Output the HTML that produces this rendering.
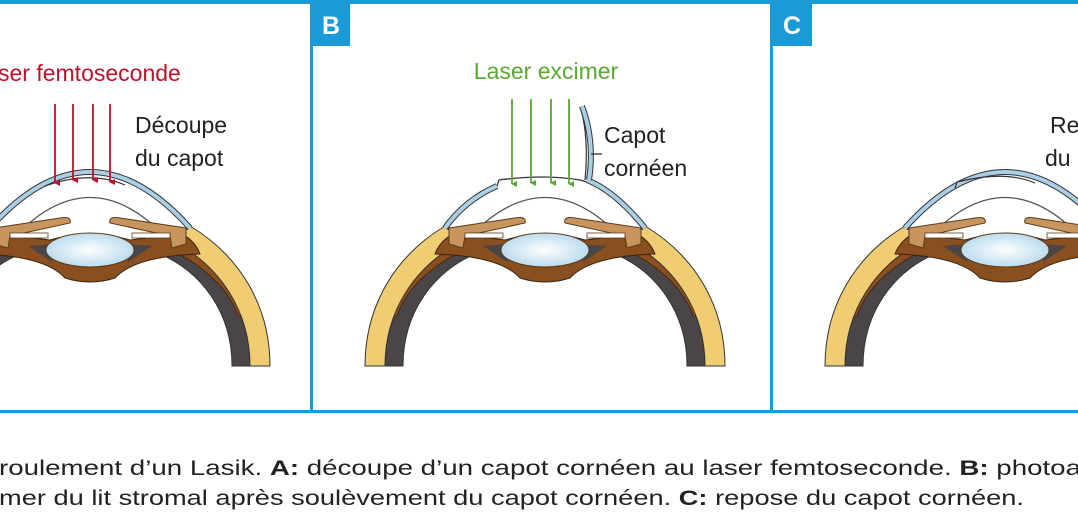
<!DOCTYPE html>
<html><head><meta charset="utf-8"><style>
html,body{margin:0;padding:0;background:#fff;width:1078px;height:516px;overflow:hidden}
svg{display:block;font-family:"Liberation Sans",sans-serif}
</style></head><body>
<svg width="1078" height="516" viewBox="0 0 1078 516">
<defs>
<radialGradient id="lg" cx="50%" cy="50%" r="50%"><stop offset="0" stop-color="#ffffff"/><stop offset="1" stop-color="#bcdcee"/></radialGradient>
<marker id="ar" markerWidth="6" markerHeight="6" refX="3" refY="5" orient="auto" markerUnits="userSpaceOnUse"><path d="M0,0 L3,6 L6,0 Z" fill="#c0102a"/></marker>
<marker id="ag" markerWidth="6" markerHeight="6" refX="3" refY="5" orient="auto" markerUnits="userSpaceOnUse"><path d="M0,0 L3,6 L6,0 Z" fill="#5aa832"/></marker>
<g id="half">
 <!-- dark choroid -->
 <path d="M-160,0 C-160,-55 -130,-100 -82,-124 L-70,-112 C-110,-95 -142,-55 -142,0 Z" fill="#4a4548" stroke="#333" stroke-width="1"/>
 <!-- brown ciliary strip -->
 <path d="M-158,-50 C-150,-85 -125,-110 -88,-128 L-78,-118 C-110,-102 -138,-80 -148,-50 Z" fill="#8a4f1e" stroke="#3a2410" stroke-width="0.8"/>
 <!-- yellow sclera -->
 <path d="M-180,0 C-180,-60 -150,-110 -100,-140 L-84,-124 C-130,-100 -160,-55 -160,0 Z" fill="#f0cd72" stroke="#333" stroke-width="1"/>
</g>
<g id="eye">
 <use href="#half"/>
 <use href="#half" transform="scale(-1,1)"/>
 <path d="M-82,-122 Q0,-215 82,-122" fill="none" stroke="#555" stroke-width="1.3"/>
 <!-- brown body -->
 <path d="M-92,-132 L-40,-126 Q0,-138 40,-126 L92,-132 Q105,-125 110,-112 Q45,-110 25,-88 Q0,-80 -25,-88 Q-45,-110 -110,-112 Q-105,-125 -92,-132 Z" fill="#8a4f1e" stroke="#3a2410" stroke-width="1"/>
 <path d="M-62,-120 L-38,-122 L-38,-104 Z" fill="#4a4548"/>
 <path d="M62,-120 L38,-122 L38,-104 Z" fill="#4a4548"/>
 <!-- iris arms -->
 <path d="M-96,-138 L-30,-148 Q-18,-150 -20,-143 L-80,-130 L-82,-118 L-96,-122 Z" fill="#c8955e" stroke="#5a3a1a" stroke-width="1"/>
 <path d="M96,-138 L30,-148 Q18,-150 20,-143 L80,-130 L82,-118 L96,-122 Z" fill="#c8955e" stroke="#5a3a1a" stroke-width="1"/>
 <rect x="-80" y="-133" width="38" height="5" fill="#fff" stroke="#5a3a1a" stroke-width="0.8"/>
 <rect x="42" y="-133" width="38" height="5" fill="#fff" stroke="#5a3a1a" stroke-width="0.8"/>
 <ellipse cx="0" cy="-116" rx="44" ry="17" fill="url(#lg)" stroke="#5a3a1a" stroke-width="1"/>
</g>
</defs>

<!-- Panel A -->
<g transform="translate(90,366)">
 <use href="#eye"/>
 <path d="M-100,-138 Q0,-250 100,-138" fill="none" stroke="#333" stroke-width="6"/>
 <path d="M-100,-138 Q0,-250 100,-138" fill="none" stroke="#a9cfe6" stroke-width="4"/>
 <path d="M-45,-180 Q0,-196 35,-181" fill="none" stroke="#333" stroke-width="1.2"/>
</g>
<g stroke="#c0102a" stroke-width="1.8" marker-end="url(#ar)">
 <line x1="55" y1="104" x2="55" y2="183"/><line x1="73" y1="104" x2="73" y2="180"/>
 <line x1="93" y1="104" x2="93" y2="180"/><line x1="110" y1="104" x2="110" y2="182"/>
</g>

<!-- Panel B -->
<g transform="translate(545,366)">
 <use href="#eye"/>
 <path d="M-100,-138 Q-80,-166 -48,-180" fill="none" stroke="#333" stroke-width="6"/>
 <path d="M-100,-138 Q-80,-166 -48,-180" fill="none" stroke="#a9cfe6" stroke-width="4"/>
 <path d="M-48,-180 L-46,-186 Q0,-192 35,-186 L42,-184" fill="none" stroke="#333" stroke-width="1.3"/>
 <path d="M42,-186 Q70,-175 100,-138" fill="none" stroke="#333" stroke-width="6"/>
 <path d="M42,-186 Q70,-175 100,-138" fill="none" stroke="#a9cfe6" stroke-width="4"/>
 <path d="M36,-258 Q44,-225 40,-186" fill="none" stroke="#333" stroke-width="1.2"/>
 <path d="M37,-260 Q50,-225 44,-186" fill="none" stroke="#333" stroke-width="6"/>
 <path d="M37,-260 Q50,-225 44,-186" fill="none" stroke="#a9cfe6" stroke-width="4"/>
 <line x1="46" y1="-212" x2="57" y2="-212" stroke="#333" stroke-width="1.3"/>
</g>
<g stroke="#5aa832" stroke-width="1.8" marker-end="url(#ag)">
 <line x1="512" y1="99" x2="512" y2="184"/><line x1="531" y1="99" x2="531" y2="183"/>
 <line x1="551" y1="99" x2="551" y2="183"/><line x1="569" y1="99" x2="569" y2="184"/>
</g>

<!-- Panel C -->
<g transform="translate(1005,366)">
 <use href="#eye"/>
 <path d="M-100,-138 Q0,-250 100,-138" fill="none" stroke="#333" stroke-width="6"/>
 <path d="M-100,-138 Q0,-250 100,-138" fill="none" stroke="#a9cfe6" stroke-width="4"/>
 <path d="M-50,-178 L-48,-184 Q0,-196 30,-183" fill="none" stroke="#333" stroke-width="1.2"/>
</g>

<!-- frame -->
<rect x="0" y="0" width="1078" height="4" fill="#1a9ad6"/>
<rect x="0" y="410" width="1078" height="3" fill="#1a9ad6"/>
<rect x="310" y="0" width="3" height="413" fill="#1a9ad6"/>
<rect x="770" y="0" width="3" height="413" fill="#1a9ad6"/>
<rect x="313" y="3" width="37" height="43" fill="#1a9ad6"/>
<rect x="773" y="3" width="39" height="43" fill="#1a9ad6"/>
<text x="331" y="34" font-size="25" font-weight="bold" fill="#fff" text-anchor="middle">B</text>
<text x="792" y="34" font-size="25" font-weight="bold" fill="#fff" text-anchor="middle">C</text>

<!-- labels -->
<text x="-2" y="81" font-size="23" fill="#c0102a">ser femtoseconde</text>
<text x="135" y="133" font-size="23" fill="#222">Découpe</text>
<text x="135" y="166" font-size="23" fill="#222">du capot</text>
<text x="546" y="79" font-size="23" fill="#5aa832" text-anchor="middle">Laser excimer</text>
<text x="604" y="143" font-size="23" fill="#222">Capot</text>
<text x="604" y="176" font-size="23" fill="#222">cornéen</text>
<text x="1050" y="133" font-size="23" fill="#222">Re</text>
<text x="1045" y="166" font-size="23" fill="#222">du</text>

<!-- caption -->
<text x="-1" y="475" font-size="21" fill="#222" textLength="1082" lengthAdjust="spacingAndGlyphs">roulement d’un Lasik. <tspan font-weight="bold">A:</tspan> découpe d’un capot cornéen au laser femtoseconde. <tspan font-weight="bold">B:</tspan> photoa</text>
<text x="-1" y="505" font-size="21" fill="#222" textLength="1025" lengthAdjust="spacingAndGlyphs">mer du lit stromal après soulèvement du capot cornéen. <tspan font-weight="bold">C:</tspan> repose du capot cornéen.</text>
</svg>
</body></html>
